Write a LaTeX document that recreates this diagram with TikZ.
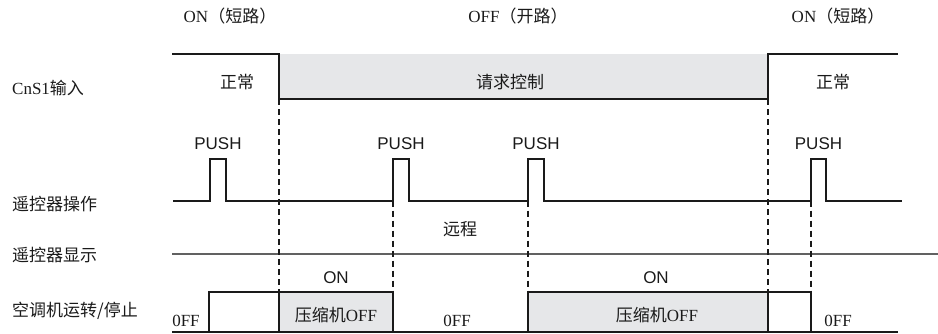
\documentclass[tikz,border=0pt]{standalone}
\usepackage{fontspec}
\setmainfont{Liberation Serif}
\setsansfont{Liberation Sans}
\newfontfamily\cjk{Noto Sans CJK SC}
\definecolor{bandgray}{HTML}{E6E7E9}
\definecolor{sigcol}{HTML}{1A1A1A}
\begin{document}
\begin{tikzpicture}[x=1pt,y=-1pt,
  sig/.style={line width=2pt, draw=sigcol, line join=miter},
  guide/.style={dash pattern=on 6pt off 4pt, line width=1.1pt, draw=sigcol},
  displine/.style={line width=1.3pt, draw=black!62},
  txt/.style={font=\fontsize{17}{20}\selectfont, inner sep=0pt, text=sigcol},
  stxt/.style={font=\sffamily\fontsize{17}{20}\selectfont, inner sep=0pt, text=sigcol},
  lab/.style={txt, anchor=west}]
\useasboundingbox (0,0) rectangle (938,333);

% event coordinates
\coordinate (e1t) at (279,99);  \coordinate (e1b) at (279,292);
\coordinate (e2t) at (393,200.5); \coordinate (e2b) at (393,292);
\coordinate (e3t) at (528,200.5); \coordinate (e3b) at (528,292);
\coordinate (e4t) at (768,99);  \coordinate (e4b) at (768,292);
\coordinate (e5t) at (811,200.5); \coordinate (e5b) at (811,292);

% row 1: CnS1 input
\fill[bandgray] (279,54) rectangle (768,99);
\draw[sig] (172,54) -- (279,54) -- (279,99) -- (768,99) -- (768,54) -- (898,54);

% row 2: remote operation
\draw[sig] (173,200.5) -- (210,200.5) -- (210,159) -- (226,159) -- (226,200.5)
  -- (393,200.5) -- (393,159) -- (409,159) -- (409,200.5)
  -- (528,200.5) -- (528,159) -- (544,159) -- (544,200.5)
  -- (811,200.5) -- (811,159) -- (826,159) -- (826,200.5) -- (902,200.5);

% row 3: remote display
\draw[displine] (172,254) -- (938,254);

% row 4: unit run/stop
\fill[bandgray] (279,292) rectangle (393,332);
\fill[bandgray] (528,292) rectangle (768,332);
\draw[sig] (172,332) -- (898,332);
\draw[sig] (209,332) -- (209,292) -- (393,292) -- (393,332);
\draw[sig] (279,292) -- (279,332);
\draw[sig] (528,332) -- (528,292) -- (811,292) -- (811,332);
\draw[sig] (768,292) -- (768,332);

% dashed guides
\draw[guide] (e1t) -- (e1b);
\draw[guide] (e2t) -- (e2b);
\draw[guide] (e3t) -- (e3b);
\draw[guide] (e4t) -- (e4b);
\draw[guide] (e5t) -- (e5b);

% top labels
\node[txt] (on1) at (230,16) {ON{\cjk （短路）}};
\node[txt] (off1) at (518,16) {OFF{\cjk （开路）}};
\node[txt] (on2) at (838,16) {ON{\cjk （短路）}};
\node[txt] (n1) at (237,82) {\cjk 正常};
\node[txt] (req) at (510,82) {\cjk 请求控制};
\node[txt] (n2) at (833,82) {\cjk 正常};

% PUSH labels
\node[stxt] (p1) at (218,144) {PUSH};
\node[stxt] (p2) at (401,144) {PUSH};
\node[stxt] (p3) at (536,144) {PUSH};
\node[stxt] (p4) at (818.5,144) {PUSH};

% remote
\node[txt] (rem) at (460,229) {\cjk 远程};

% ON labels row 4
\node[stxt] (on3) at (336,278) {ON};
\node[stxt] (on4) at (656,278) {ON};
\node[txt] (c1) at (336,315) {{\cjk 压缩机}OFF};
\node[txt] (c2) at (657,315) {{\cjk 压缩机}OFF};
\node[txt] (o1) at (186,321) {0FF};
\node[txt] (o2) at (457,321) {0FF};
\node[txt] (o3) at (838,321) {0FF};

% row labels
\node[lab] (l1) at (12,88) {CnS1{\cjk 输入}};
\node[lab] (l2) at (12,204) {\cjk 遥控器操作};
\node[lab] (l3) at (12,255) {\cjk 遥控器显示};
\node[lab] (l4) at (12,311) {\cjk 空调机运转/停止};
\end{tikzpicture}
\end{document}
